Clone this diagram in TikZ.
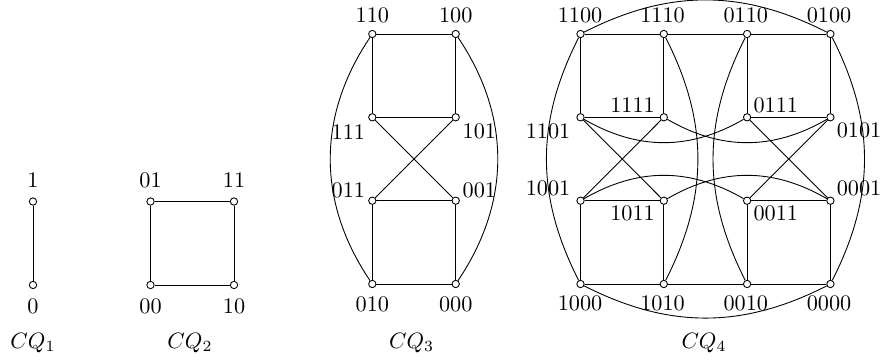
\documentclass[tikz,border=0pt]{standalone}
\begin{document}
\begin{tikzpicture}[x=0.45pt,y=-0.45pt,
  vtx/.style={circle,draw,fill=white,inner sep=0pt,minimum size=3.3pt,line width=0.4pt},
  lbl/.style={inner sep=0pt,anchor=center},
  captxt/.style={inner sep=0pt,anchor=base},
  edge/.style={line width=0.4pt}]
\useasboundingbox (0,0) rectangle (882,361);
% ---------- CQ1
\node[vtx] (a1) at (33,201.5) {};
\node[vtx] (a0) at (33,285) {};
\node[lbl] (la1) at (33,180) {1};
\node[lbl] (la0) at (33,306.5) {0};
\node[captxt] (ca) at (33,348.5) {$CQ_1$};
\draw[edge] (a1) -- (a0);
% ---------- CQ2
\node[vtx] (b01) at (150.5,201.5) {};
\node[vtx] (b11) at (234,201.5) {};
\node[vtx] (b00) at (150.5,285) {};
\node[vtx] (b10) at (234,285) {};
\node[lbl] (lb01) at (150.5,180) {01};
\node[lbl] (lb11) at (234,180) {11};
\node[lbl] (lb00) at (150.5,306.5) {00};
\node[lbl] (lb10) at (234,306.5) {10};
\node[captxt] (cb) at (190,348.5) {$CQ_2$};
\draw[edge] (b01) -- (b11) -- (b10) -- (b00) -- (b01);
% ---------- CQ3
\node[vtx] (c110) at (372.3,34) {};
\node[vtx] (c100) at (455.7,34) {};
\node[vtx] (c111) at (372.3,117.3) {};
\node[vtx] (c101) at (455.7,117.3) {};
\node[vtx] (c011) at (372.3,200.7) {};
\node[vtx] (c001) at (455.7,200.7) {};
\node[vtx] (c010) at (372.3,284) {};
\node[vtx] (c000) at (455.7,284) {};
\node[lbl] (lc110) at (372.3,15) {110};
\node[lbl] (lc100) at (455.7,15) {100};
\node[lbl] (lc111) at (348.3,131.7) {111};
\node[lbl] (lc101) at (479.3,131.7) {101};
\node[lbl] (lc011) at (348.3,190) {011};
\node[lbl] (lc001) at (479.3,190) {001};
\node[lbl] (lc010) at (372.3,304) {010};
\node[lbl] (lc000) at (455.7,304) {000};
\node[captxt] (cc) at (411.7,348.5) {$CQ_3$};
\draw[edge] (c110) -- (c100);
\draw[edge] (c110) -- (c111);
\draw[edge] (c100) -- (c101);
\draw[edge] (c111) -- (c101);
\draw[edge] (c111) -- (c001);
\draw[edge] (c101) -- (c011);
\draw[edge] (c011) -- (c001);
\draw[edge] (c011) -- (c010);
\draw[edge] (c001) -- (c000);
\draw[edge] (c010) -- (c000);
\draw[edge] (c110) to[bend right=34] (c010);
\draw[edge] (c100) to[bend left=34] (c000);
% ---------- CQ4
\node[vtx] (d1100) at (580.5,34) {};
\node[vtx] (d1110) at (663.8,34) {};
\node[vtx] (d0110) at (747.1,34) {};
\node[vtx] (d0100) at (830.4,34) {};
\node[vtx] (d1101) at (580.5,117.3) {};
\node[vtx] (d1111) at (663.8,117.3) {};
\node[vtx] (d0111) at (747.1,117.3) {};
\node[vtx] (d0101) at (830.4,117.3) {};
\node[vtx] (d1001) at (580.5,200.7) {};
\node[vtx] (d1011) at (663.8,200.7) {};
\node[vtx] (d0011) at (747.1,200.7) {};
\node[vtx] (d0001) at (830.4,200.7) {};
\node[vtx] (d1000) at (580.5,284) {};
\node[vtx] (d1010) at (663.8,284) {};
\node[vtx] (d0010) at (747.1,284) {};
\node[vtx] (d0000) at (830.4,284) {};
\node[lbl] (ld1100) at (580,15) {1100};
\node[lbl] (ld1110) at (662.5,15) {1110};
\node[lbl] (ld0110) at (745.8,15) {0110};
\node[lbl] (ld0100) at (829,15) {0100};
\node[lbl] (ld1111) at (632.5,105) {1111};
\node[lbl] (ld0111) at (775.8,105) {0111};
\node[lbl] (ld1101) at (548,131) {1101};
\node[lbl] (ld0101) at (859,130) {0101};
\node[lbl] (ld1001) at (548,188.3) {1001};
\node[lbl] (ld0001) at (859,188.3) {0001};
\node[lbl] (ld1011) at (632.5,213.3) {1011};
\node[lbl] (ld0011) at (775.8,213.3) {0011};
\node[lbl] (ld1000) at (580,303.5) {1000};
\node[lbl] (ld1010) at (662.5,303.5) {1010};
\node[lbl] (ld0010) at (745.8,303.5) {0010};
\node[lbl] (ld0000) at (829,303.5) {0000};
\node[captxt] (cd) at (704,348.5) {$CQ_4$};
\draw[edge] (d1100) -- (d1110) -- (d0110) -- (d0100);
\draw[edge] (d1000) -- (d1010) -- (d0010) -- (d0000);
\draw[edge] (d1101) -- (d1111);
\draw[edge] (d0111) -- (d0101);
\draw[edge] (d1001) -- (d1011);
\draw[edge] (d0011) -- (d0001);
\draw[edge] (d1100) -- (d1101);
\draw[edge] (d1110) -- (d1111);
\draw[edge] (d0110) -- (d0111);
\draw[edge] (d0100) -- (d0101);
\draw[edge] (d1001) -- (d1000);
\draw[edge] (d1011) -- (d1010);
\draw[edge] (d0011) -- (d0010);
\draw[edge] (d0001) -- (d0000);
\draw[edge] (d1101) -- (d1011);
\draw[edge] (d1111) -- (d1001);
\draw[edge] (d0111) -- (d0001);
\draw[edge] (d0101) -- (d0011);
\draw[edge] (d1100) to[bend right=27] (d1000);
\draw[edge] (d0100) to[bend left=27] (d0000);
\draw[edge] (d1100) to[bend left=27] (d0100);
\draw[edge] (d1000) to[bend right=27] (d0000);
\draw[edge] (d1110) to[bend left=27] (d1010);
\draw[edge] (d0110) to[bend right=27] (d0010);
\draw[edge] (d1101) to[bend right=30] (d0111);
\draw[edge] (d1111) to[bend right=30] (d0101);
\draw[edge] (d1001) to[bend left=30] (d0011);
\draw[edge] (d1011) to[bend left=30] (d0001);
\end{tikzpicture}
\end{document}
